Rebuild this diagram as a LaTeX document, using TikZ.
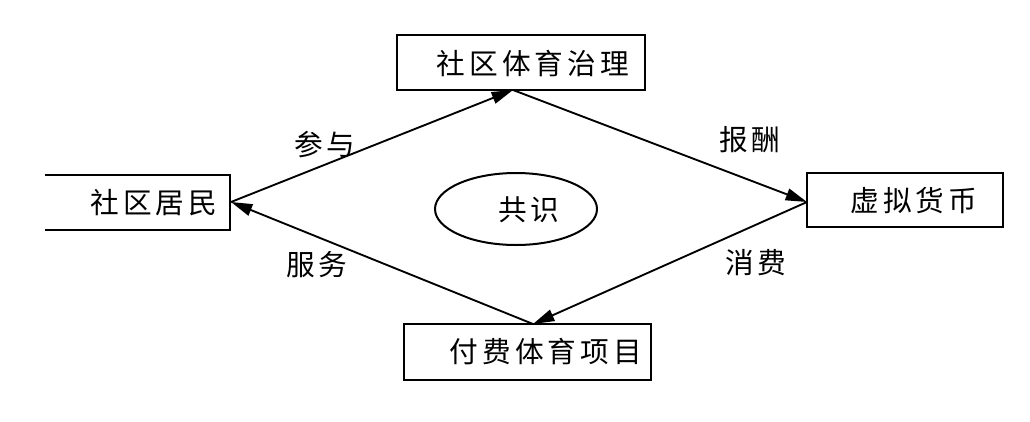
\documentclass[tikz,border=0pt]{standalone}
\usepackage{fontspec}
\setmainfont{Noto Sans CJK SC}
\usetikzlibrary{arrows.meta,shapes.geometric}
\tikzset{
  box/.style={draw=black, line width=1.5pt, minimum width=#1, inner sep=0pt},
  txt/.style={font=\fontsize{21.5pt}{24pt}\selectfont\addfontfeatures{LetterSpace=14}, inner sep=0pt},
  conn/.style={line width=1.4pt, -{Triangle[length=16pt,width=9pt]}},
}
\begin{document}
\begin{tikzpicture}[x=0.75pt,y=-0.75pt]
\useasboundingbox (0,0) rectangle (1030,421);
% boxes
\node[box=248*0.75pt, minimum height=55*0.75pt] (top) at (521,62.5) {};
\node[minimum width=185*0.75pt, minimum height=55*0.75pt, inner sep=0pt] (left) at (137.5,202.5) {};
\draw[line width=1.5pt] (left.north west) -- (left.north east) -- (left.south east) -- (left.south west);
\node[box=196*0.75pt, minimum height=54*0.75pt] (right) at (905,200) {};
\node[box=247*0.75pt, minimum height=56*0.75pt] (bottom) at (527.5,352) {};
\node[draw=black, line width=1.5pt, ellipse, minimum width=162*0.75pt, minimum height=72*0.75pt, inner sep=0pt] (cons) at (516,209) {};
% texts
\node[txt] (ttop) at (533,64) {社区体育治理};
\node[txt] (tleft) at (154,203) {社区居民};
\node[txt] (tright) at (914,201) {虚拟货币};
\node[txt] (tbottom) at (546,352) {付费体育项目};
\node[txt] (tcons) at (529,210) {共识};
% connection points
\coordinate (pL) at (231,202);
\coordinate (pT) at (513,90);
\coordinate (pR) at (807,202);
\coordinate (pB) at (533,324);
\draw[conn] (pL) -- (pT);
\draw[conn] (pT) -- (pR);
\draw[conn] (pR) -- (pB);
\draw[conn] (pB) -- (pL);
% labels
\node[txt] (l1) at (325,145) {参与};
\node[txt] (l2) at (750,140) {报酬};
\node[txt] (l3) at (317,265) {服务};
\node[txt] (l4) at (756,263) {消费};
\end{tikzpicture}
\end{document}
